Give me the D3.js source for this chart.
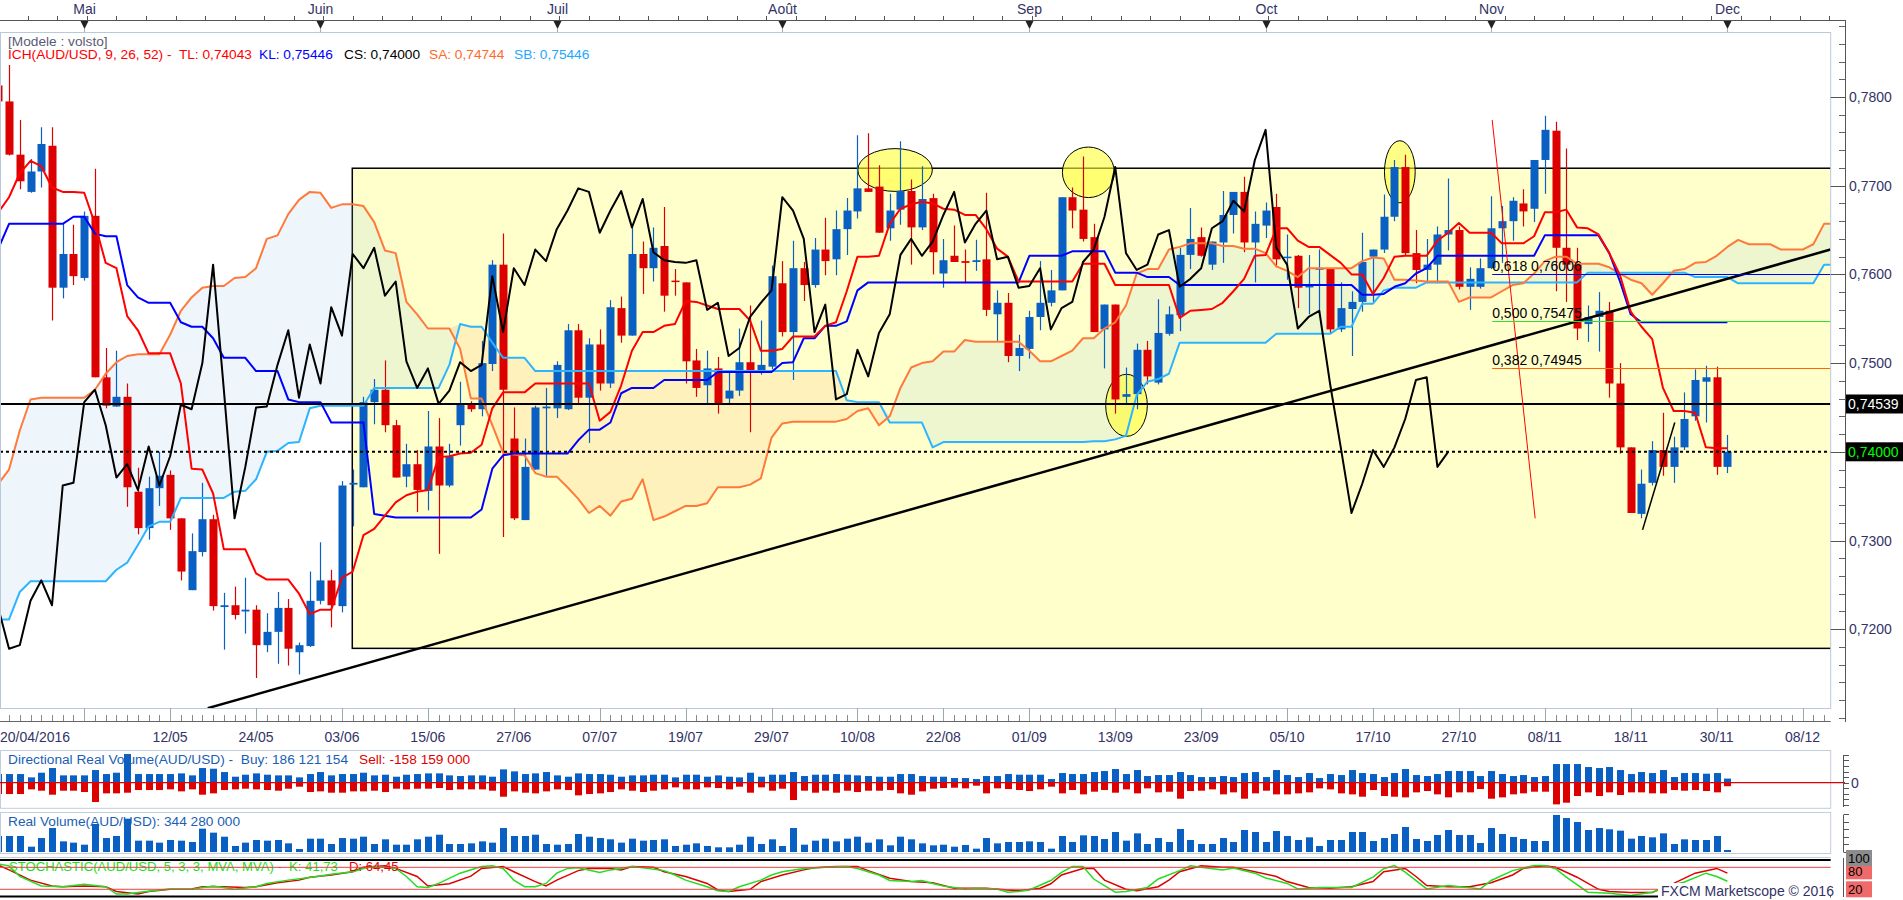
<!DOCTYPE html>
<html>
<head>
<meta charset="utf-8">
<title>AUD/USD Ichimoku</title>
<script src="https://cdn.jsdelivr.net/npm/d3@7"></script>
<style>
    body { margin: 0; background: #ffffff; }
    svg { display: block; font-family: "Liberation Sans", Arial, sans-serif; }
    text { white-space: pre; }
</style>
</head>
<body>
<div id="chart"></div>
<script>
// day index 0 = 20/04/2016, one step per trading day

var openP = [
    0.7813,0.7795,0.7735,0.7693,0.7716,0.7745,0.7585,0.7623,0.7596,0.7666,
    0.7484,0.7451,0.7462,0.7355,0.7314,0.7359,0.7374,0.7325,0.7244,0.7287,
    0.7324,0.7225,0.7227,0.7220,0.7222,0.7182,0.7197,0.7224,0.7174,0.7181,
    0.7232,0.7255,0.7226,0.7363,0.7360,0.7456,0.7470,0.7430,0.7372,0.7386,
    0.7356,0.7406,0.7362,0.7430,0.7453,0.7448,0.7499,0.7611,0.7415,0.7323,
    0.7380,0.7449,0.7449,0.7448,0.7537,0.7461,0.7521,0.7477,0.7562,0.7531,
    0.7623,0.7607,0.7632,0.7593,0.7591,0.7503,0.7475,0.7494,0.7460,0.7469,
    0.7501,0.7491,0.7496,0.7590,0.7535,0.7607,0.7588,0.7628,0.7617,0.7651,
    0.7671,0.7697,0.7699,0.7652,0.7673,0.7694,0.7653,0.7686,0.7601,0.7621,
    0.7615,0.7614,0.7617,0.7555,0.7568,0.7508,0.7516,0.7552,0.7568,0.7582,
    0.7687,0.7673,0.7642,0.7538,0.7566,0.7462,0.7465,0.7515,0.7478,0.7533,
    0.7554,0.7622,0.7642,0.7611,0.7636,0.7667,0.7693,0.7636,0.7655,0.7676,
    0.7619,0.7621,0.7586,0.7606,0.7607,0.7538,0.7561,0.7569,0.7620,0.7628,
    0.7665,0.7721,0.7624,0.7605,0.7611,0.7645,0.7650,0.7586,0.7586,0.7607,
    0.7652,0.7660,0.7680,0.7674,0.7729,0.7762,0.7630,0.7611,0.7544,0.7552,
    0.7559,0.7477,0.7405,0.7330,0.7365,0.7402,0.7383,0.7405,0.7440,0.7479,
    0.7484,0.7383
];
var highP = [
    0.7840,0.7836,0.7774,0.7730,0.7766,0.7766,0.7657,0.7656,0.7671,0.7719,
    0.7517,0.7514,0.7477,0.7382,0.7372,0.7400,0.7379,0.7325,0.7308,0.7365,
    0.7329,0.7241,0.7248,0.7258,0.7227,0.7218,0.7242,0.7234,0.7185,0.7265,
    0.7298,0.7267,0.7367,0.7380,0.7462,0.7482,0.7503,0.7436,0.7409,0.7402,
    0.7446,0.7438,0.7409,0.7479,0.7457,0.7525,0.7616,0.7646,0.7450,0.7415,
    0.7452,0.7472,0.7502,0.7544,0.7544,0.7528,0.7538,0.7571,0.7575,0.7654,
    0.7637,0.7653,0.7676,0.7606,0.7591,0.7516,0.7514,0.7507,0.7491,0.7539,
    0.7565,0.7548,0.7610,0.7615,0.7638,0.7614,0.7641,0.7664,0.7672,0.7686,
    0.7757,0.7759,0.7723,0.7691,0.7750,0.7707,0.7722,0.7691,0.7640,0.7655,
    0.7628,0.7639,0.7692,0.7582,0.7579,0.7532,0.7559,0.7615,0.7605,0.7687,
    0.7698,0.7733,0.7657,0.7566,0.7566,0.7495,0.7522,0.7525,0.7572,0.7564,
    0.7630,0.7675,0.7653,0.7637,0.7694,0.7693,0.7710,0.7671,0.7681,0.7691,
    0.7645,0.7622,0.7622,0.7628,0.7607,0.7591,0.7581,0.7647,0.7628,0.7690,
    0.7729,0.7735,0.7650,0.7640,0.7654,0.7708,0.7654,0.7608,0.7618,0.7688,
    0.7677,0.7687,0.7696,0.7729,0.7779,0.7772,0.7742,0.7630,0.7565,0.7580,
    0.7569,0.7500,0.7405,0.7380,0.7412,0.7444,0.7417,0.7467,0.7493,0.7497,
    0.7496,0.7419
];
var lowP = [
    0.7790,0.7734,0.7696,0.7692,0.7698,0.7548,0.7573,0.7588,0.7593,0.7484,
    0.7449,0.7451,0.7338,0.7307,0.7301,0.7339,0.7312,0.7255,0.7244,0.7282,
    0.7221,0.7177,0.7211,0.7195,0.7145,0.7174,0.7161,0.7159,0.7149,0.7180,
    0.7228,0.7202,0.7219,0.7316,0.7360,0.7431,0.7422,0.7371,0.7360,0.7332,
    0.7334,0.7285,0.7360,0.7407,0.7445,0.7440,0.7491,0.7304,0.7323,0.7323,
    0.7380,0.7373,0.7438,0.7447,0.7455,0.7410,0.7469,0.7472,0.7523,0.7531,
    0.7578,0.7592,0.7558,0.7576,0.7477,0.7462,0.7455,0.7443,0.7453,0.7463,
    0.7422,0.7487,0.7493,0.7530,0.7481,0.7570,0.7585,0.7599,0.7599,0.7622,
    0.7663,0.7693,0.7647,0.7638,0.7656,0.7611,0.7650,0.7600,0.7585,0.7614,
    0.7590,0.7604,0.7553,0.7525,0.7501,0.7491,0.7505,0.7537,0.7564,0.7582,
    0.7652,0.7637,0.7535,0.7494,0.7443,0.7453,0.7448,0.7476,0.7476,0.7531,
    0.7536,0.7606,0.7620,0.7605,0.7613,0.7646,0.7625,0.7591,0.7641,0.7608,
    0.7594,0.7562,0.7555,0.7558,0.7533,0.7535,0.7508,0.7558,0.7569,0.7624,
    0.7660,0.7622,0.7590,0.7590,0.7590,0.7627,0.7583,0.7560,0.7584,0.7606,
    0.7613,0.7638,0.7654,0.7659,0.7691,0.7581,0.7569,0.7526,0.7524,0.7513,
    0.7461,0.7398,0.7331,0.7325,0.7362,0.7373,0.7365,0.7402,0.7435,0.7433,
    0.7374,0.7376
];
var closeP = [
    0.7795,0.7735,0.7705,0.7716,0.7747,0.7585,0.7623,0.7598,0.7666,0.7484,
    0.7452,0.7462,0.7360,0.7314,0.7359,0.7373,0.7325,0.7265,0.7288,0.7324,
    0.7226,0.7227,0.7216,0.7222,0.7182,0.7197,0.7224,0.7178,0.7182,0.7232,
    0.7255,0.7227,0.7362,0.7365,0.7456,0.7470,0.7430,0.7371,0.7386,0.7357,
    0.7406,0.7362,0.7395,0.7453,0.7448,0.7500,0.7611,0.7470,0.7325,0.7383,
    0.7450,0.7451,0.7498,0.7537,0.7461,0.7521,0.7477,0.7563,0.7531,0.7623,
    0.7607,0.7630,0.7576,0.7592,0.7502,0.7472,0.7494,0.7454,0.7469,0.7501,
    0.7491,0.7498,0.7598,0.7535,0.7607,0.7588,0.7628,0.7615,0.7651,0.7672,
    0.7697,0.7693,0.7647,0.7672,0.7694,0.7653,0.7685,0.7625,0.7616,0.7614,
    0.7613,0.7616,0.7560,0.7568,0.7508,0.7517,0.7552,0.7568,0.7582,0.7687,
    0.7672,0.7640,0.7535,0.7566,0.7459,0.7465,0.7515,0.7485,0.7534,0.7555,
    0.7622,0.7640,0.7621,0.7637,0.7667,0.7693,0.7636,0.7657,0.7672,0.7617,
    0.7620,0.7585,0.7587,0.7607,0.7538,0.7562,0.7569,0.7614,0.7628,0.7665,
    0.7721,0.7624,0.7605,0.7611,0.7645,0.7650,0.7586,0.7595,0.7607,0.7652,
    0.7660,0.7683,0.7671,0.7729,0.7763,0.7630,0.7611,0.7539,0.7552,0.7559,
    0.7477,0.7405,0.7331,0.7364,0.7402,0.7383,0.7405,0.7437,0.7481,0.7484,
    0.7383,0.7400
];

// ichimoku lines as shown (tenkan, kijun on price days; senkou spans run 10 days further)
var tenkan = [
    0.7670,0.7687,0.7714,0.7728,0.7722,0.7698,0.7693,0.7693,0.7692,0.7657,
    0.7613,0.7607,0.7553,0.7537,0.7511,0.7511,0.7511,0.7477,0.7381,0.7380,
    0.7353,0.7290,0.7290,0.7290,0.7263,0.7256,0.7256,0.7256,0.7240,0.7217,
    0.7222,0.7222,0.7258,0.7265,0.7306,0.7313,0.7328,0.7343,0.7351,0.7355,
    0.7357,0.7394,0.7395,0.7398,0.7399,0.7408,0.7449,0.7467,0.7467,0.7467,
    0.7477,0.7477,0.7477,0.7477,0.7477,0.7477,0.7435,0.7445,0.7475,0.7514,
    0.7535,0.7535,0.7542,0.7544,0.7570,0.7569,0.7565,0.7561,0.7561,0.7561,
    0.7548,0.7514,0.7514,0.7516,0.7530,0.7530,0.7530,0.7542,0.7546,0.7581,
    0.7620,0.7620,0.7621,0.7657,0.7674,0.7679,0.7682,0.7680,0.7674,0.7673,
    0.7667,0.7667,0.7651,0.7629,0.7620,0.7592,0.7592,0.7592,0.7592,0.7592,
    0.7592,0.7612,0.7612,0.7612,0.7588,0.7588,0.7588,0.7588,0.7588,0.7588,
    0.7551,0.7559,0.7560,0.7561,0.7568,0.7581,0.7595,0.7621,0.7622,0.7652,
    0.7652,0.7638,0.7631,0.7631,0.7622,0.7613,0.7600,0.7600,0.7578,0.7596,
    0.7620,0.7621,0.7621,0.7621,0.7638,0.7647,0.7658,0.7647,0.7647,0.7647,
    0.7635,0.7635,0.7635,0.7643,0.7670,0.7670,0.7673,0.7653,0.7652,0.7645,
    0.7624,0.7599,0.7558,0.7541,0.7527,0.7472,0.7446,0.7446,0.7444,0.7405,
    0.7404,0.7404
];
var kijun = [
    0.7629,0.7657,0.7657,0.7657,0.7657,0.7657,0.7657,0.7665,0.7665,0.7646,
    0.7643,0.7643,0.7588,0.7574,0.7568,0.7568,0.7568,0.7546,0.7541,0.7541,
    0.7528,0.7506,0.7506,0.7506,0.7491,0.7491,0.7491,0.7459,0.7456,0.7456,
    0.7456,0.7433,0.7433,0.7433,0.7433,0.7330,0.7328,0.7326,0.7326,0.7326,
    0.7326,0.7326,0.7326,0.7326,0.7326,0.7335,0.7381,0.7396,0.7398,0.7398,
    0.7398,0.7398,0.7398,0.7398,0.7413,0.7425,0.7425,0.7433,0.7466,0.7472,
    0.7472,0.7472,0.7481,0.7481,0.7481,0.7481,0.7481,0.7490,0.7490,0.7490,
    0.7490,0.7490,0.7490,0.7500,0.7501,0.7528,0.7528,0.7542,0.7542,0.7547,
    0.7582,0.7591,0.7591,0.7591,0.7591,0.7591,0.7591,0.7591,0.7591,0.7591,
    0.7591,0.7591,0.7591,0.7591,0.7591,0.7591,0.7621,0.7621,0.7621,0.7621,
    0.7626,0.7626,0.7626,0.7626,0.7602,0.7602,0.7602,0.7597,0.7597,0.7597,
    0.7588,0.7588,0.7588,0.7588,0.7588,0.7588,0.7588,0.7588,0.7588,0.7588,
    0.7588,0.7588,0.7588,0.7588,0.7588,0.7588,0.7588,0.7577,0.7577,0.7578,
    0.7586,0.7590,0.7601,0.7607,0.7621,0.7621,0.7621,0.7621,0.7621,0.7621,
    0.7621,0.7621,0.7621,0.7621,0.7644,0.7644,0.7644,0.7644,0.7644,0.7644,
    0.7624,0.7592,0.7555,0.7546,0.7546,0.7546,0.7546,0.7546,0.7546,0.7546,
    0.7546,0.7546
];
var senkouA = [
    0.7364,0.7380,0.7424,0.7459,0.7461,0.7461,0.7461,0.7461,0.7461,0.7470,
    0.7488,0.7501,0.7508,0.7510,0.7510,0.7510,0.7532,0.7559,0.7574,0.7585,
    0.7587,0.7587,0.7596,0.7597,0.7607,0.7640,0.7644,0.7668,0.7684,0.7693,
    0.7692,0.7675,0.7679,0.7679,0.7677,0.7659,0.7627,0.7624,0.7569,0.7555,
    0.7539,0.7539,0.7539,0.7516,0.7460,0.7460,0.7430,0.7399,0.7397,0.7396,
    0.7376,0.7372,0.7372,0.7360,0.7347,0.7331,0.7339,0.7328,0.7344,0.7347,
    0.7369,0.7323,0.7327,0.7333,0.7339,0.7339,0.7342,0.7360,0.7360,0.7360,
    0.7363,0.7370,0.7416,0.7432,0.7434,0.7434,0.7434,0.7434,0.7434,0.7437,
    0.7446,0.7449,0.7430,0.7440,0.7472,0.7495,0.7500,0.7502,0.7513,0.7513,
    0.7526,0.7524,0.7524,0.7524,0.7524,0.7524,0.7514,0.7502,0.7502,0.7508,
    0.7514,0.7528,0.7528,0.7539,0.7546,0.7565,0.7601,0.7606,0.7606,0.7628,
    0.7631,0.7635,0.7635,0.7635,0.7632,0.7632,0.7629,0.7629,0.7624,0.7609,
    0.7604,0.7597,0.7607,0.7607,0.7607,0.7607,0.7607,0.7615,0.7619,0.7618,
    0.7594,0.7594,0.7593,0.7592,0.7592,0.7592,0.7569,0.7574,0.7574,0.7574,
    0.7581,0.7588,0.7590,0.7601,0.7615,0.7620,0.7620,0.7612,0.7612,0.7612,
    0.7608,0.7601,0.7594,0.7590,0.7577,0.7590,0.7604,0.7606,0.7613,0.7614,
    0.7621,0.7631,0.7639,0.7634,0.7634,0.7634,0.7628,0.7628,0.7628,0.7634,
    0.7657,0.7657
];
var senkouB = [
    0.7211,0.7211,0.7242,0.7254,0.7254,0.7254,0.7254,0.7254,0.7254,0.7254,
    0.7254,0.7267,0.7275,0.7295,0.7316,0.7321,0.7321,0.7348,0.7348,0.7348,
    0.7348,0.7348,0.7355,0.7356,0.7369,0.7400,0.7401,0.7410,0.7411,0.7449,
    0.7452,0.7452,0.7452,0.7452,0.7452,0.7472,0.7472,0.7472,0.7472,0.7472,
    0.7472,0.7472,0.7498,0.7544,0.7541,0.7541,0.7523,0.7506,0.7506,0.7506,
    0.7491,0.7491,0.7491,0.7491,0.7491,0.7491,0.7491,0.7491,0.7491,0.7491,
    0.7491,0.7491,0.7491,0.7491,0.7491,0.7491,0.7491,0.7491,0.7491,0.7491,
    0.7491,0.7491,0.7491,0.7491,0.7491,0.7491,0.7491,0.7491,0.7491,0.7458,
    0.7456,0.7456,0.7456,0.7433,0.7433,0.7433,0.7433,0.7405,0.7411,0.7411,
    0.7411,0.7411,0.7411,0.7411,0.7411,0.7411,0.7411,0.7411,0.7411,0.7411,
    0.7411,0.7411,0.7412,0.7412,0.7414,0.7418,0.7464,0.7479,0.7482,0.7488,
    0.7523,0.7523,0.7523,0.7523,0.7523,0.7523,0.7523,0.7523,0.7523,0.7533,
    0.7533,0.7533,0.7533,0.7533,0.7533,0.7541,0.7541,0.7567,0.7567,0.7582,
    0.7585,0.7585,0.7585,0.7591,0.7591,0.7591,0.7591,0.7591,0.7591,0.7591,
    0.7591,0.7591,0.7591,0.7591,0.7591,0.7591,0.7591,0.7591,0.7602,0.7602,
    0.7602,0.7602,0.7602,0.7602,0.7602,0.7602,0.7602,0.7602,0.7597,0.7597,
    0.7597,0.7597,0.7590,0.7590,0.7590,0.7590,0.7590,0.7590,0.7590,0.7590,
    0.7611,0.7611
];

// volumes in millions
var buyVol = [
    390,390,390,240,450,660,330,330,330,570,390,450,1290,390,390,390,390,420,330,660,
    630,480,270,360,420,360,330,330,240,390,480,330,390,390,450,330,360,270,360,390,
    420,420,330,300,330,330,270,600,510,390,420,480,330,270,420,390,390,360,270,330,
    330,360,360,240,360,360,270,330,270,240,450,270,360,360,480,300,360,360,390,360,
    330,300,270,270,390,390,300,270,270,
    210,210,165,300,300,390,360,360,360,165,435,390,390,480,525,615,390,570,300,345,
    345,480,345,255,255,300,255,435,480,255,570,345,255,435,210,390,345,570,435,390,
    255,435,615,345,300,390,525,525,525,300,525,390,300,345,255,300,840,840,840,705,
    660,705,570,390,480,435,570,255,435,435,405,435,186
];
var sellVol = [
    510,510,510,300,360,540,360,360,420,870,480,480,450,330,330,330,300,390,300,540,
    480,330,300,270,300,330,360,270,180,420,390,450,450,390,390,360,420,270,300,270,
    270,240,330,300,300,300,360,630,390,450,480,390,300,330,570,510,480,420,300,360,
    420,360,300,210,300,300,210,240,300,180,450,210,360,270,780,360,450,360,450,360,
    420,360,360,330,480,540,390,270,240,
    225,255,135,480,255,285,330,375,300,180,480,330,525,405,330,450,300,480,255,435,
    405,720,375,360,300,525,435,720,480,360,525,525,480,435,255,300,480,525,630,330,
    600,630,660,435,375,525,660,435,435,285,720,660,525,480,405,405,975,900,600,435,
    600,435,555,435,435,480,480,330,360,330,375,435,158
];
var realVol = [
    2740,2740,2740,910,2390,4100,1820,1600,1250,4790,2390,2740,5700,1940,1940,1600,2050,1940,1710,3990,
    3310,2620,1030,1600,2050,1940,2050,1480,510,2280,2280,1370,2390,2280,2620,1370,2170,1250,1250,2170,
    2620,2960,1370,1370,1480,1820,1600,4100,2740,2740,2960,1370,1250,1370,3080,2620,2390,2170,1600,2280,
    1940,2050,2170,1030,1250,1480,1030,800,800,1250,2620,1370,2170,1030,4100,1250,1940,2280,1820,2280,
    2620,1600,2170,1140,2620,2170,1480,1140,1250,
    910,1200,570,2390,1480,1710,1710,1820,1710,570,2740,1710,2850,2740,2220,3420,1940,3190,1370,2390,
    1710,3930,2050,1370,1370,2390,1710,3760,3420,1710,3590,2740,2050,2510,1030,2050,2050,3420,3420,1880,
    2390,3080,4280,2220,1880,2910,3760,2910,2910,1540,4100,3080,2570,2220,1880,1880,6330,5810,5130,3760,
    4100,3880,3650,2280,2740,2510,3190,1370,2170,2050,2050,2740,344
];

// stochastic %K / %D turning points [day, value]
var stochK = [
    [0,89],[1,84],[2,55],[4,29],[6,27],[8,34],[10,27],[11,7],[12,7],[13,11],[15,18],[16,21],
    [18,20],[20,29],[22,20],[24,27],[25,36],[27,45],[29,52],[30,56],[31,61],[33,68],[34,77],
    [35,82],[37,77],[38,55],[39,27],[40,25],[41,36],[43,64],[45,82],[46,84],[47,77],[48,45],
    [49,27],[50,27],[51,36],[52,64],[53,77],[54,79],[56,66],[57,73],[58,77],[59,82],[60,79],
    [62,71],[63,59],[64,45],[66,27],[67,16],[68,14],[69,27],[71,45],[72,59],[73,68],[75,77],
    [77,80],[79,82],[80,77],[82,59],[83,44],[85,41],[86,44],[87,36],[88,29],[89,25],[90,21],
    [91,23],[93,21],[94,12],[95,14],[96,18],[98,44],[99,66],[100,82],[101,82],[102,48],[104,12],
    [105,14],[107,25],[108,48],[110,71],[111,84],[112,80],[114,73],[115,78],[117,64],[118,51],
    [120,36],[121,21],[123,25],[126,25],[128,53],[129,76],[130,85],[131,67],[133,21],[135,30],
    [137,24],[138,21],[139,44],[141,71],[143,85],[144,85],[145,76],[146,53],[148,12],[150,9],
    [152,3],[154,12],[155,24],[157,40],[159,64],[160,55],[161,42]
];
var stochD = [
    [0,86],[1,73],[3,45],[5,29],[6,27],[8,29],[10,27],[11,14],[13,7],[14,14],[16,20],[18,21],
    [19,27],[21,27],[23,25],[24,27],[26,38],[28,45],[29,53],[31,59],[33,68],[34,80],[36,84],
    [37,77],[39,55],[40,29],[42,35],[44,56],[45,77],[47,82],[48,68],[50,41],[51,29],[52,45],
    [54,71],[55,77],[57,77],[58,73],[59,82],[61,80],[62,68],[64,55],[66,36],[67,18],[68,14],
    [70,20],[71,41],[73,59],[75,73],[76,79],[78,82],[80,82],[81,71],[83,50],[85,41],[87,38],
    [89,23],[92,23],[94,18],[95,16],[97,23],[98,35],[99,59],[101,77],[102,77],[103,45],[105,20],
    [106,16],[108,27],[109,45],[110,68],[112,84],[114,80],[115,80],[117,68],[119,55],[120,41],
    [122,25],[124,23],[126,27],[128,41],[129,68],[131,77],[132,55],[133,30],[135,27],[137,27],
    [139,38],[141,59],[142,77],[144,84],[145,80],[147,53],[149,20],[150,14],[152,11],[154,11],
    [156,36],[158,64],[160,77],[161,64]
];

// axis labels
var dateTickLabels = ["20/04/2016", "", "12/05", "24/05", "03/06", "15/06", "27/06", "07/07",
    "19/07", "29/07", "10/08", "22/08", "01/09", "13/09", "23/09", "05/10", "17/10", "27/10",
    "08/11", "18/11", "30/11", "08/12"];
var monthNames = ["Mai", "Juin", "Juil", "Août", "Sep", "Oct", "Nov", "Dec"];
var monthStartDay = [8, 30, 52, 73, 96, 118, 139, 161];
var priceTicks = [0.72, 0.73, 0.74, 0.75, 0.76, 0.77, 0.78];
var priceLabels = [0.72, 0.73, 0.75, 0.76, 0.77, 0.78];

// drawing objects, in [day, price]
var supportLevel = 0.74539;
var lastPrice = 0.74000;
var boxCorners = [[32.96, 0.77197], [175, 0.71784]];
var trendLine = [[19.5, 0.7111], [170.6, 0.7628]];
var riseLine = [[153.1, 0.7312], [156.1, 0.7433]];
var fibSwing = [[139.1, 0.7774], [143.1, 0.7325]];
var fibRatios = [0.382, 0.500, 0.618];
var fibPrices = [0.74945, 0.75475, 0.76006];
var highlights = [
    { day: 83.5, price: 0.77177, dDay: 3.47, dPrice: 0.00241 },
    { day: 101.5, price: 0.77151, dDay: 2.42, dPrice: 0.00285 },
    { day: 105.05, price: 0.74524, dDay: 1.94, dPrice: 0.00350 },
    { day: 130.5, price: 0.77157, dDay: 1.43, dPrice: 0.00350 }
];

var width = 1903;
var height = 900;
var plot = { left: 0, right: 1830.7, top: 32, bottom: 708 };
var axisX = 1845;
var bullColor = '#0a60c2';
var bearColor = '#dd0000';
var labelColor = '#333366';
var titleSize = 13.7;

function comma(v, n) {
    return v.toFixed(n).replace('.', ',');
}

var svg = d3.select('#chart').
    append('svg').
    attr('width', width).
    attr('height', height);

svg.append('rect').attr('width', width).attr('height', height).attr('fill', '#fff');

var x = d3.scaleLinear().domain([0, 161]).range([-1.7, 1727.4]);
var y = d3.scaleLinear().domain([0.73, 0.78]).range([540.5, 97]);

var defs = svg.append('defs');
defs.append('clipPath').attr('id', 'mainClip').
    append('rect').
    attr('x', plot.left).attr('y', plot.top).
    attr('width', plot.right - plot.left).attr('height', plot.bottom - plot.top);
defs.append('clipPath').attr('id', 'lowClip').
    append('rect').attr('x', 0).attr('y', 740).attr('width', plot.right).attr('height', 160);

var main = svg.append('g').attr('clip-path', 'url(#mainClip)');

// yellow zone
main.append('rect').
    attr('x', x(boxCorners[0][0])).
    attr('y', y(boxCorners[0][1])).
    attr('width', x(boxCorners[1][0]) - x(boxCorners[0][0])).
    attr('height', y(boxCorners[1][1]) - y(boxCorners[0][1])).
    attr('fill', '#ffffcc').
    attr('stroke', '#000').
    attr('stroke-width', 1.5);

// kumo
var kumoDays = d3.range(senkouA.length);
main.append('path').
    datum(kumoDays).
    attr('d', d3.area().
        x(function (i) { return x(i); }).
        y0(function (i) { return y(senkouB[i]); }).
        y1(function (i) { return y(Math.max(senkouA[i], senkouB[i])); })).
    attr('fill', 'rgb(142,195,235)').
    attr('fill-opacity', 0.15);
main.append('path').
    datum(kumoDays).
    attr('d', d3.area().
        x(function (i) { return x(i); }).
        y0(function (i) { return y(senkouA[i]); }).
        y1(function (i) { return y(Math.max(senkouA[i], senkouB[i])); })).
    attr('fill', 'rgb(255,160,100)').
    attr('fill-opacity', 0.15);

// highlight ellipses
main.selectAll('ellipse.mark').
    data(highlights).
    enter().
    append('ellipse').
    attr('cx', function (d) { return x(d.day); }).
    attr('cy', function (d) { return y(d.price); }).
    attr('rx', function (d) { return x(d.dDay) - x(0); }).
    attr('ry', function (d) { return y(0.73) - y(0.73 + d.dPrice); }).
    attr('fill', '#ffff33').
    attr('fill-opacity', 0.6).
    attr('stroke', '#000').
    attr('stroke-width', 1);

// candles
var days = d3.range(openP.length);
var candle = main.append('g');
candle.selectAll('line').
    data(days).
    enter().
    append('line').
    attr('x1', function (i) { return Math.round(x(i)) + 0.5; }).
    attr('x2', function (i) { return Math.round(x(i)) + 0.5; }).
    attr('y1', function (i) { return y(highP[i]); }).
    attr('y2', function (i) { return y(lowP[i]); }).
    attr('stroke', function (i) { return closeP[i] >= openP[i] ? bullColor : bearColor; }).
    attr('stroke-width', 1.2);
candle.selectAll('rect').
    data(days).
    enter().
    append('rect').
    attr('x', function (i) { return Math.round(x(i)) - 3.5; }).
    attr('width', 8).
    attr('y', function (i) { return y(Math.max(openP[i], closeP[i])); }).
    attr('height', function (i) {
        return Math.max(1.5, y(Math.min(openP[i], closeP[i])) - y(Math.max(openP[i], closeP[i])));
    }).
    attr('fill', function (i) { return closeP[i] >= openP[i] ? bullColor : bearColor; });

// ichimoku lines
var seriesLine = d3.line().
    x(function (d, i) { return x(i); }).
    y(function (d) { return y(d); });
function drawSeries(values, color, w) {
    main.append('path').
        datum(values).
        attr('d', seriesLine).
        attr('fill', 'none').
        attr('stroke', color).
        attr('stroke-width', w).
        attr('stroke-linejoin', 'round');
}
drawSeries(senkouB, '#2db4ff', 2);
drawSeries(senkouA, '#ff7a3a', 2);
drawSeries(kijun, '#0000ff', 2);
drawSeries(tenkan, '#ff0000', 2);
drawSeries(closeP.slice(26), '#000000', 2);   // chikou span

// levels and drawing tools
main.append('line').
    attr('x1', plot.left).attr('x2', plot.right).
    attr('y1', y(supportLevel)).attr('y2', y(supportLevel)).
    attr('stroke', '#000').attr('stroke-width', 2);
main.append('line').
    attr('x1', plot.left).attr('x2', plot.right).
    attr('y1', y(lastPrice)).attr('y2', y(lastPrice)).
    attr('stroke', '#000').attr('stroke-width', 2).attr('stroke-dasharray', '3,3');

var pointLine = d3.line().
    x(function (d) { return x(d[0]); }).
    y(function (d) { return y(d[1]); });
main.append('path').datum(trendLine).attr('d', pointLine).
    attr('stroke', '#000').attr('stroke-width', 2.5).attr('fill', 'none');
main.append('path').datum(riseLine).attr('d', pointLine).
    attr('stroke', '#000').attr('stroke-width', 1.5).attr('fill', 'none');
main.append('path').datum(fibSwing).attr('d', pointLine).
    attr('stroke', '#ff0000').attr('stroke-width', 1).attr('fill', 'none');

var fibColors = ['#ff6600', '#33dd33', '#0000ff'];
fibPrices.forEach(function (p, k) {
    main.append('line').
        attr('x1', x(fibSwing[0][0])).attr('x2', plot.right).
        attr('y1', Math.round(y(p)) + 0.5).attr('y2', Math.round(y(p)) + 0.5).
        attr('stroke', fibColors[k]).attr('stroke-width', 1);
    main.append('text').
        attr('x', x(fibSwing[0][0])).
        attr('y', y(p) - 3).
        attr('font-size', 14).
        attr('fill', '#000').
        text(comma(fibRatios[k], 3) + ' ' + comma(p, 5));
});

// frame of the price pane
svg.append('rect').
    attr('x', plot.left + 0.5).attr('y', plot.top + 0.5).
    attr('width', plot.right - plot.left - 0.5).attr('height', plot.bottom - plot.top).
    attr('fill', 'none').attr('stroke', '#b9c9dc');

// top month axis
var monthAxis = svg.append('g');
monthAxis.append('line').attr('x1', 0).attr('x2', axisX).attr('y1', 20.5).attr('y2', 20.5).
    attr('stroke', '#555');
monthAxis.selectAll('line.tk').
    data(d3.range(0, 172, 2.75)).
    enter().
    append('line').
    attr('x1', function (d) { return Math.round(x(d)) + 0.5; }).
    attr('x2', function (d) { return Math.round(x(d)) + 0.5; }).
    attr('y1', 16).attr('y2', 20).
    attr('stroke', '#555');
monthStartDay.forEach(function (d, k) {
    var mx = Math.round(x(d)) + 0.5;
    monthAxis.append('path').
        attr('d', 'M' + (mx - 4) + ',21 L' + (mx + 4) + ',21 L' + mx + ',29 Z').
        attr('fill', '#222');
    monthAxis.append('line').attr('x1', mx).attr('x2', mx).attr('y1', 29).attr('y2', 32).
        attr('stroke', '#aab');
    monthAxis.append('text').
        attr('x', mx).attr('y', 14).
        attr('text-anchor', 'middle').
        attr('font-size', 14).
        attr('fill', labelColor).
        text(monthNames[k]);
});

// bottom date axis
var dateAxis = svg.append('g');
dateAxis.append('line').attr('x1', 0).attr('x2', plot.right).attr('y1', 721.5).attr('y2', 721.5).
    attr('stroke', '#666');
dateAxis.selectAll('line.minor').
    data(d3.range(0, 171)).
    enter().
    append('line').
    attr('x1', function (d) { return Math.round(x(d)) + 0.5; }).
    attr('x2', function (d) { return Math.round(x(d)) + 0.5; }).
    attr('y1', function (d) { return d % 8 === 0 ? 708 : 715; }).
    attr('y2', 721).
    attr('stroke', function (d) { return d % 8 === 0 ? '#9aa' : '#888'; });
dateTickLabels.forEach(function (lab, k) {
    if (!lab) {
        return;
    }
    var tx = x(k * 8);
    dateAxis.append('text').
        attr('x', tx < 40 ? 0 : tx).
        attr('y', 742).
        attr('text-anchor', tx < 40 ? 'start' : 'middle').
        attr('font-size', 14).
        attr('fill', labelColor).
        text(lab);
});

// right price axis
var priceAxis = svg.append('g');
priceAxis.append('line').attr('x1', axisX + 0.5).attr('x2', axisX + 0.5).attr('y1', 20).attr('y2', 722).
    attr('stroke', '#555');
priceAxis.selectAll('line.minor').
    data(d3.range(0.7100, 0.7880, 0.002)).
    enter().
    append('line').
    attr('x1', axisX - 6).attr('x2', axisX).
    attr('y1', function (d) { return Math.round(y(d)) + 0.5; }).
    attr('y2', function (d) { return Math.round(y(d)) + 0.5; }).
    attr('stroke', '#666');
priceTicks.forEach(function (p) {
    priceAxis.append('line').
        attr('x1', plot.right).attr('x2', axisX).
        attr('y1', Math.round(y(p)) + 0.5).attr('y2', Math.round(y(p)) + 0.5).
        attr('stroke', '#555');
});
priceLabels.forEach(function (p) {
    priceAxis.append('text').
        attr('x', axisX + 4).attr('y', y(p) + 5).
        attr('font-size', 14).
        attr('fill', labelColor).
        text(comma(p, 4));
});
function priceBox(p, color) {
    priceAxis.append('rect').
        attr('x', axisX + 1).attr('y', y(p) - 9.5).
        attr('width', width - axisX - 1).attr('height', 19).
        attr('fill', '#000');
    priceAxis.append('text').
        attr('x', axisX + 3).attr('y', y(p) + 5).
        attr('font-size', 14).
        attr('fill', color).
        text(comma(p, 5));
}
priceBox(supportLevel, '#ffffff');
priceBox(lastPrice, '#00ff00');

// legend
var legend = svg.append('g').attr('font-size', titleSize);
legend.append('text').attr('x', 8).attr('y', 45.5).attr('fill', '#5a5a78').text('[Modele : volsto]');
var ich = legend.append('text').attr('y', 58.5);
ich.append('tspan').attr('x', 8).attr('fill', '#ff0000').text('ICH(AUD/USD, 9, 26, 52) -  TL: 0,74043');
ich.append('tspan').attr('x', 259).attr('fill', '#0000ff').text('KL: 0,75446');
ich.append('tspan').attr('x', 344).attr('fill', '#000').text('CS: ' + comma(closeP[161], 5));
ich.append('tspan').attr('x', 429).attr('fill', '#ff6a2a').text('SA: 0,74744');
ich.append('tspan').attr('x', 514).attr('fill', '#1ea8ff').text('SB: 0,75446');

// lower panes
var lowPane = svg.append('g');
var lowPlot = lowPane.append('g').attr('clip-path', 'url(#lowClip)');

// directional real volume
var dirY = d3.scaleLinear().domain([-1152, 1440]).range([808.3, 750.7]);
lowPane.append('rect').attr('x', 0.5).attr('y', 750.5).attr('width', plot.right - 0.5).attr('height', 57.8).
    attr('fill', 'none').attr('stroke', '#c2ceda');
lowPlot.selectAll('rect.buy').
    data(buyVol).
    enter().
    append('rect').
    attr('x', function (d, i) { return Math.round(x(i)) - 3; }).
    attr('width', 7).
    attr('y', function (d) { return dirY(d); }).
    attr('height', function (d) { return dirY(0) - dirY(d); }).
    attr('fill', bullColor);
lowPlot.selectAll('rect.sell').
    data(sellVol).
    enter().
    append('rect').
    attr('x', function (d, i) { return Math.round(x(i)) - 3; }).
    attr('width', 7).
    attr('y', dirY(0)).
    attr('height', function (d) { return dirY(-d) - dirY(0); }).
    attr('fill', bearColor);
lowPane.append('line').attr('x1', 0).attr('x2', axisX).attr('y1', dirY(0)).attr('y2', dirY(0)).
    attr('stroke', '#e00000').attr('stroke-width', 1.2);
var dirTitle = lowPane.append('text').attr('y', 764).attr('font-size', titleSize);
dirTitle.append('tspan').attr('x', 8).attr('fill', '#1a5fb4').
    text('Directional Real Volume(AUD/USD) -  Buy: 186 121 154');
dirTitle.append('tspan').attr('x', 359).attr('fill', '#e00000').
    text('Sell: -158 159 000');

// real volume
var volY = d3.scaleLinear().domain([0, 6840]).range([852, 812]);
lowPane.append('rect').attr('x', 0.5).attr('y', 812.5).attr('width', plot.right - 0.5).attr('height', 41).
    attr('fill', 'none').attr('stroke', '#c2ceda');
lowPlot.selectAll('rect.vol').
    data(realVol).
    enter().
    append('rect').
    attr('x', function (d, i) { return Math.round(x(i)) - 3; }).
    attr('width', 7).
    attr('y', function (d) { return volY(d); }).
    attr('height', function (d) { return volY(0) - volY(d); }).
    attr('fill', bullColor);
lowPane.append('text').attr('x', 8).attr('y', 825.5).attr('font-size', titleSize).attr('fill', '#1a5fb4').
    text('Real Volume(AUD/USD): 344 280 000');

// stochastic
var stY = d3.scaleLinear().domain([0, 100]).range([896.6, 860]);
lowPane.append('line').attr('x1', 0).attr('x2', plot.right).attr('y1', 857.5).attr('y2', 857.5).attr('stroke', '#c2ceda');
var stTitle = lowPane.append('text').attr('y', 870.5).attr('font-size', 13.1);
stTitle.append('tspan').attr('x', 9).attr('fill', '#22dd22').
    text('STOCHASTIC(AUD/USD, 5, 3, 3, MVA, MVA) -  K: 41,73');
stTitle.append('tspan').attr('x', 349).attr('fill', '#e00000').text('D: 64,45');
[100, 0].forEach(function (v) {
    lowPane.append('line').attr('x1', 0).attr('x2', plot.right).attr('y1', stY(v)).attr('y2', stY(v)).
        attr('stroke', '#000').attr('stroke-width', 2);
});
[80, 20].forEach(function (v) {
    lowPane.append('line').attr('x1', 0).attr('x2', plot.right).attr('y1', stY(v)).attr('y2', stY(v)).
        attr('stroke', '#e84040').attr('stroke-width', 1);
});
var stLine = d3.line().
    x(function (d) { return x(d[0]); }).
    y(function (d) { return stY(d[1]); });
lowPlot.append('path').datum(stochD).attr('d', stLine).attr('fill', 'none').
    attr('stroke', '#dd0000').attr('stroke-width', 1.5);
lowPlot.append('path').datum(stochK).attr('d', stLine).attr('fill', 'none').
    attr('stroke', '#22dd22').attr('stroke-width', 1.5);

// lower right axes
[[755, 807], [815, 852], [858, 897]].forEach(function (r) {
    lowPane.append('line').attr('x1', 1843.5).attr('x2', 1843.5).attr('y1', r[0]).attr('y2', r[1]).
        attr('stroke', '#555');
});
d3.range(-1000, 1441, 250).forEach(function (v) {
    lowPane.append('line').attr('x1', 1843.5).attr('x2', 1849).
        attr('y1', Math.round(dirY(v)) + 0.5).attr('y2', Math.round(dirY(v)) + 0.5).attr('stroke', '#555');
});
lowPane.append('text').attr('x', 1851).attr('y', dirY(0) + 5).attr('font-size', 14).attr('fill', labelColor).text('0');
d3.range(0, 6840, 1300).forEach(function (v) {
    lowPane.append('line').attr('x1', 1843.5).attr('x2', 1849).
        attr('y1', Math.round(volY(v)) + 0.5).attr('y2', Math.round(volY(v)) + 0.5).attr('stroke', '#555');
});
function stochBox(v, bg, dy) {
    lowPane.append('rect').attr('x', 1846).attr('y', stY(v) - 8 + dy).attr('width', 26).attr('height', 16).attr('fill', bg);
    lowPane.append('text').attr('x', 1848).attr('y', stY(v) + 5 + dy).attr('font-size', 13).attr('fill', '#000').text(v);
}
stochBox(80, '#f06a6a', 4);
stochBox(100, '#8c8c8c', -2);
stochBox(20, '#f06a6a', 0);

// watermark
lowPane.append('rect').attr('x', 1658).attr('y', 883).attr('width', 172).attr('height', 16).attr('fill', '#fff');
lowPane.append('text').attr('x', 1661).attr('y', 896).attr('font-size', 14).attr('fill', labelColor).
    text('FXCM Marketscope © 2016');
</script>
</body>
</html>
